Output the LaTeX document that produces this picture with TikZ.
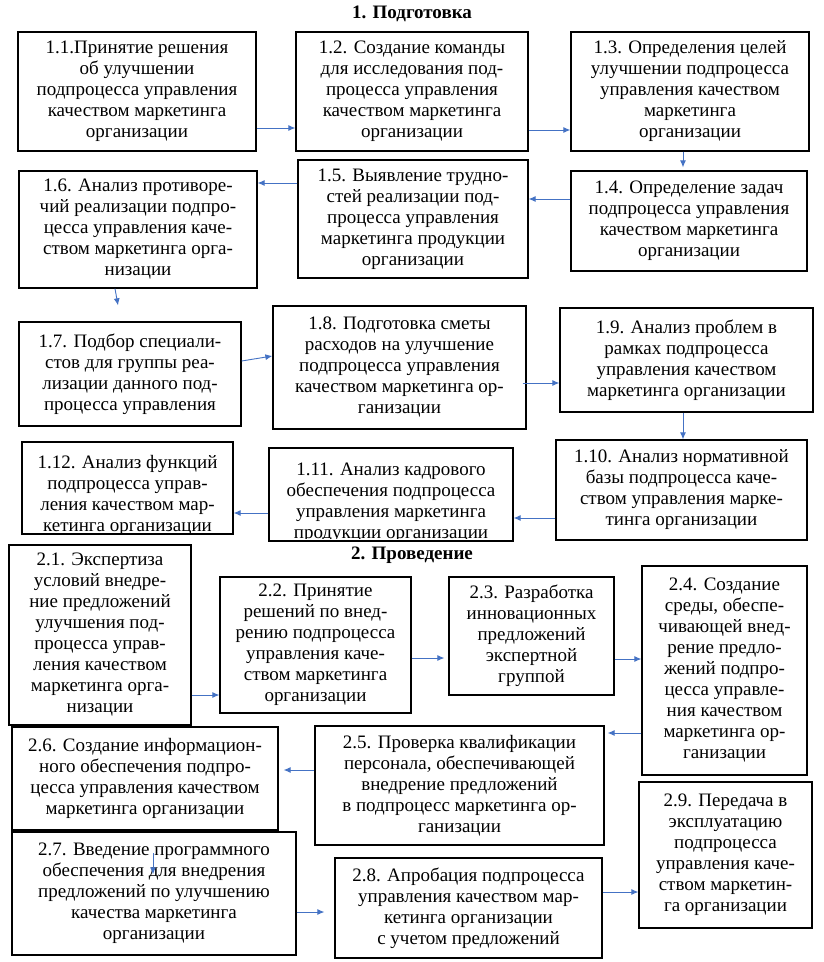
\documentclass[tikz,border=0pt]{standalone}
\usepackage{fontspec}
\setmainfont{Liberation Serif}
\usetikzlibrary{arrows.meta}
\definecolor{arrblue}{RGB}{68,114,196}
\tikzset{
  box/.style={draw=black, line width=1.3pt, align=center, inner sep=0pt,
    font=\fontsize{19}{21}\selectfont},
  boxtext/.style={align=center, inner sep=0pt, font=\fontsize{19}{21}\selectfont},
  ttl/.style={font=\fontsize{19}{21}\selectfont\bfseries},
  arr/.style={draw=arrblue, line width=0.9pt, -{Latex[length=7pt,width=6pt]}}
}
\begin{document}
\begin{tikzpicture}[x=1pt,y=-1pt]
\useasboundingbox[fill=white] (0,0) rectangle (823,962);
\node[ttl] (t1) at (412,14) {1. Подготовка};
\node[ttl] (t2) at (412,555) {2. Проведение};
% row 1
\node[box, minimum width=238, minimum height=119] (n11) at (137,91.5)
  {1.1.Принятие решения\\ об улучшении\\ подпроцесса управления\\ качеством маркетинга\\ организации};
\node[box, minimum width=232, minimum height=119] (n12) at (412,91.5)
  {1.2. Создание команды\\ для исследования под-\\ процесса управления\\ качеством маркетинга\\ организации};
\node[box, minimum width=238, minimum height=119] (n13) at (690,91.5)
  {1.3. Определения целей\\ улучшении подпроцесса\\ управления качеством\\ маркетинга\\ организации};
% row 2
\node[box, minimum width=236, minimum height=100] (n14) at (689,221)
  {1.4. Определение задач\\ подпроцесса управления\\ качеством маркетинга\\ организации};
\node[box, minimum width=230, minimum height=118] (n15) at (413,219)
  {1.5. Выявление трудно-\\ стей реализации под-\\ процесса управления\\ маркетинга продукции\\ организации};
\node[box, minimum width=238, minimum height=117] (n16) at (138,229.5)
  {1.6. Анализ противоре-\\ чий реализации подпро-\\ цесса управления каче-\\ ством маркетинга орга-\\ низации};
% row 3
\node[box, minimum width=222, minimum height=104] (n17) at (130,374)
  {1.7. Подбор специали-\\ стов для группы реа-\\ лизации данного под-\\ процесса управления};
\node[box, minimum width=253, minimum height=123] (n18) at (399.5,367.5)
  {1.8. Подготовка сметы\\ расходов на улучшение\\ подпроцесса управления\\ качеством маркетинга ор-\\ ганизации};
\node[box, minimum width=253, minimum height=104] (n19) at (686.5,360)
  {1.9. Анализ проблем в\\ рамках подпроцесса\\ управления качеством\\ маркетинга организации};
% row 4
\node[box, minimum width=251, minimum height=100] (n110) at (681.5,490)
  {1.10. Анализ нормативной\\ базы подпроцесса каче-\\ ством управления марке-\\ тинга организации};
\node[box, minimum width=244, minimum height=93] (n111) at (391,494.5) {};
\begin{scope}
  \clip ([yshift=3pt]n111.south west) rectangle (n111.north east);
  \node[boxtext] (n111t) at ([yshift=-8pt]n111.center)
    {1.11. Анализ кадрового\\ обеспечения подпроцесса\\ управления маркетинга\\ продукции организации};
\end{scope}
\node[box, minimum width=211, minimum height=92] (n112) at (127.5,488) {};
\begin{scope}
  \clip ([yshift=2pt]n112.south west) rectangle (n112.north east);
  \node[boxtext] (n112t) at ([yshift=-7pt]n112.center)
    {1.12. Анализ функций\\ подпроцесса управ-\\ ления качеством мар-\\ кетинга организации};
\end{scope}
% section 2
\node[box, minimum width=182, minimum height=180] (n21) at (100,635)
  {2.1. Экспертиза\\ условий внедре-\\ ние предложений\\ улучшения под-\\ процесса управ-\\ ления качеством\\ маркетинга орга-\\ низации};
\node[box, minimum width=191, minimum height=136] (n22) at (315.5,645)
  {2.2. Принятие\\ решений по внед-\\ рению подпроцесса\\ управления каче-\\ ством маркетинга\\ организации};
\node[box, minimum width=165, minimum height=118] (n23) at (531.5,636)
  {2.3. Разработка\\ инновационных\\ предложений\\ экспертной\\ группой};
\node[box, minimum width=165, minimum height=209] (n24) at (724.5,670.5)
  {2.4. Создание\\ среды, обеспе-\\ чивающей внед-\\ рение предло-\\ жений подпро-\\ цесса управле-\\ ния качеством\\ маркетинга ор-\\ ганизации};
\node[box, minimum width=289, minimum height=119] (n25) at (459.5,785.5)
  {2.5. Проверка квалификации\\ персонала, обеспечивающей\\ внедрение предложений\\ в подпроцесс маркетинга ор-\\ ганизации};
\node[box, minimum width=266, minimum height=103] (n26) at (145,778.5)
  {2.6. Создание информацион-\\ ного обеспечения подпро-\\ цесса управления качеством\\ маркетинга организации};
\node[box, minimum width=284, minimum height=123] (n27) at (154,893.5)
  {2.7. Введение программного\\ обеспечения для внедрения\\ предложений по улучшению\\ качества маркетинга\\ организации};
\node[box, minimum width=267, minimum height=100] (n28) at (468.5,908)
  {2.8. Апробация подпроцесса\\ управления качеством мар-\\ кетинга организации\\ с учетом предложений};
\node[box, minimum width=173, minimum height=146] (n29) at (725.5,855)
  {2.9. Передача в\\ эксплуатацию\\ подпроцесса\\ управления каче-\\ ством маркетин-\\ га организации};
% connectors
\draw[arr] ([yshift=-36.5pt]n11.east) -- ([yshift=-36.5pt]n12.west);
\draw[arr] ([yshift=-38.5pt]n12.east) -- ([yshift=-38.5pt]n13.west);
\draw[arr] ([xshift=-7pt]n13.south) -- ([xshift=-6pt,yshift=3pt]n14.north);
\draw[arr] ([yshift=22pt]n14.west) -- ([yshift=20pt]n15.east);
\draw[arr] ([yshift=36pt]n15.west) -- ([yshift=46.5pt]n16.east);
\draw[arr] ([xshift=-23pt]n16.south) -- ([xshift=-12pt,yshift=16pt]n17.north);
\draw[arr] ([yshift=13pt]n17.east) -- ([yshift=11.5pt]n18.west);
\draw[arr] ([xshift=-4pt,yshift=-15.5pt]n18.east) -- ([yshift=-23pt]n19.west);
\draw[arr] ([xshift=-3.5pt]n19.south) -- ([xshift=1.5pt]n110.north);
\draw[arr] ([yshift=-28pt]n110.west) -- ([yshift=-23.5pt]n111.east);
\draw[arr] ([yshift=-18.5pt]n111.west) -- ([yshift=-25pt]n112.east);
\draw[arr] ([yshift=-60pt]n21.east) -- ([yshift=-50pt]n22.west);
\draw[arr] ([yshift=-13pt]n22.east) -- ([xshift=-4pt,yshift=-22pt]n23.west);
\draw[arr] ([yshift=-23pt]n23.east) -- ([yshift=11.5pt]n24.west);
\draw[arr] ([yshift=-62.5pt]n24.west) -- ([xshift=3pt,yshift=52.5pt]n25.east);
\draw[arr] ([yshift=15.5pt]n25.west) -- ([xshift=5pt,yshift=8.5pt]n26.east);
\draw[arr] ([xshift=-1pt,yshift=-22pt]n27.north) -- ([xshift=-1pt,yshift=-43pt]n27.north);
\draw[arr] ([yshift=-18.5pt]n27.east) -- ([xshift=-10pt,yshift=-4pt]n28.west);
\draw[arr] ([yshift=16pt]n28.east) -- ([yshift=-37pt]n29.west);
\end{tikzpicture}
\end{document}
